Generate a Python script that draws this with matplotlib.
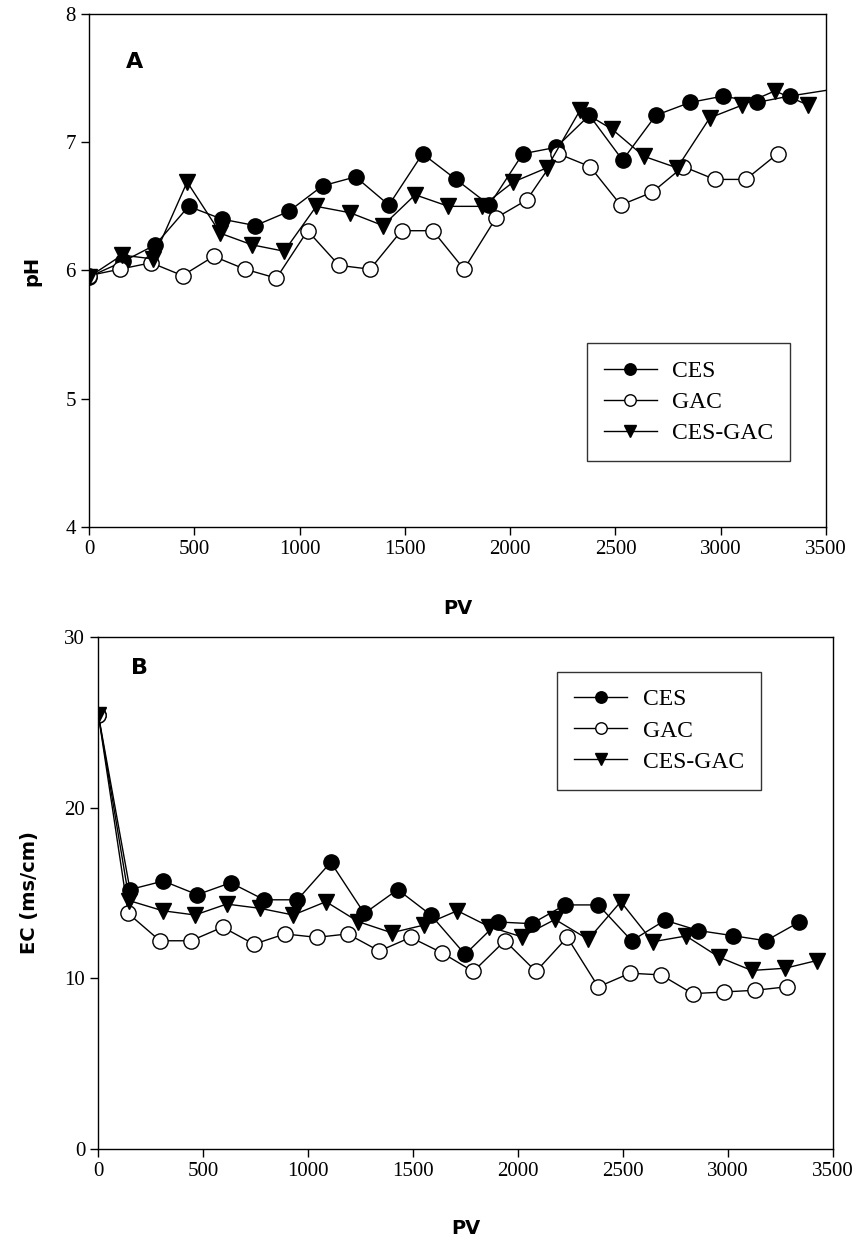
import matplotlib
matplotlib.use("Agg")
import matplotlib.pyplot as plt

# pH data (panel A)
ph_ces_pv = [0, 162, 315, 473, 632, 790, 948, 1109, 1266, 1424, 1584, 1743, 1901,
             2060, 2218, 2376, 2534, 2692, 2854, 3012, 3170, 3328, 3640]
ph_ces = [5.95, 6.07, 6.2, 6.5, 6.4, 6.35, 6.46, 6.66, 6.73, 6.51, 6.91, 6.71, 6.51,
          6.91, 6.96, 7.21, 6.86, 7.21, 7.31, 7.36, 7.31, 7.36, 7.44]

ph_gac_pv = [0, 146, 295, 444, 592, 741, 890, 1038, 1187, 1335, 1484, 1633, 1781,
             1933, 2079, 2229, 2379, 2525, 2675, 2822, 2972, 3119, 3270]
ph_gac = [5.96, 6.01, 6.06, 5.96, 6.11, 6.01, 5.94, 6.31, 6.04, 6.01, 6.31, 6.31, 6.01,
          6.41, 6.55, 6.91, 6.81, 6.51, 6.61, 6.81, 6.71, 6.71, 6.91]

ph_mix_pv = [0, 157, 304, 466, 624, 774, 927, 1079, 1240, 1396, 1549, 1707, 1866,
             2015, 2174, 2332, 2485, 2635, 2793, 2948, 3103, 3257, 3415]
ph_mix = [5.95, 6.12, 6.09, 6.69, 6.29, 6.2, 6.15, 6.5, 6.45, 6.35, 6.59, 6.5, 6.5,
          6.69, 6.8, 7.25, 7.1, 6.89, 6.8, 7.19, 7.29, 7.4, 7.29]

# EC data (panel B)
ec_ces_pv = [0, 150, 309, 471, 630, 790, 948, 1107, 1267, 1426, 1585, 1747, 1905,
             2065, 2223, 2382, 2541, 2700, 2859, 3022, 3181, 3340]
ec_ces = [25.4, 15.2, 15.7, 14.9, 15.6, 14.6, 14.6, 16.8, 13.8, 15.2, 13.7, 11.4, 13.3,
          13.2, 14.3, 14.3, 12.2, 13.4, 12.8, 12.5, 12.2, 13.3]

ec_gac_pv = [0, 142, 293, 441, 592, 741, 889, 1040, 1188, 1338, 1488, 1636, 1786,
             1937, 2085, 2234, 2382, 2533, 2681, 2832, 2981, 3129, 3280]
ec_gac = [25.4, 13.8, 12.2, 12.2, 13.0, 12.0, 12.6, 12.4, 12.6, 11.6, 12.4, 11.5, 10.4,
          12.2, 10.4, 12.4, 9.5, 10.3, 10.2, 9.1, 9.2, 9.3, 9.5]

ec_mix_pv = [0, 147, 306, 460, 611, 770, 928, 1084, 1238, 1397, 1551, 1710, 1863,
             2017, 2176, 2334, 2489, 2641, 2800, 2959, 3113, 3272, 3423]
ec_mix = [25.4, 14.55, 13.96, 13.71, 14.35, 14.1, 13.71, 14.49, 13.32, 12.67, 13.12, 13.96, 13.02,
          12.43, 13.45, 12.28, 14.49, 12.14, 12.48, 11.23, 10.46, 10.59, 11.04]

series_labels = ["CES", "GAC", "CES-GAC"]

serif = ["Liberation Serif", "DejaVu Serif"]
fig = plt.figure(figsize=(8.6, 12.47), dpi=100)
axA = fig.add_axes([0.1035, 0.5774, 0.857, 0.4114])
axB = fig.add_axes([0.1145, 0.0786, 0.854, 0.4106])

mk = dict(color="black", linewidth=1.0, markersize=11, markeredgewidth=1.0,
          markeredgecolor="black")


def draw(ax, data):
    (x1, y1), (x2, y2), (x3, y3) = data
    ax.plot(x1, y1, marker="o", markerfacecolor="black", label=series_labels[0], **mk)
    ax.plot(x2, y2, marker="o", markerfacecolor="white", label=series_labels[1], **mk)
    ax.plot(x3, y3, marker="v", markerfacecolor="black", label=series_labels[2], **mk)
    ax.set_xlim(0, 3500)
    ax.set_xticks(range(0, 3501, 500))
    ax.tick_params(direction="out", length=6, width=1, top=False, right=False,
                   labelsize=15)
    for lab in ax.get_xticklabels() + ax.get_yticklabels():
        lab.set_family(serif)
    for s in ax.spines.values():
        s.set_linewidth(1.0)


def add_legend(ax, anchor):
    leg = ax.legend(loc="upper right", bbox_to_anchor=anchor,
                    prop={"family": serif, "size": 17}, frameon=True, fancybox=False,
                    edgecolor="black", handlelength=2.25, handletextpad=0.64,
                    labelspacing=0.41, borderpad=0.72, borderaxespad=0,
                    markerscale=0.75)
    leg.get_frame().set_linewidth(1.0)
    return leg


draw(axA, [(ph_ces_pv, ph_ces), (ph_gac_pv, ph_gac), (ph_mix_pv, ph_mix)])
axA.set_ylim(4, 8)
axA.set_yticks([4, 5, 6, 7, 8])
for lab in axA.get_yticklabels():
    lab.set_family(serif)
axA.set_xlabel("PV", fontsize=14, fontweight="bold", labelpad=29)
axA.set_ylabel("pH", fontsize=14, fontweight="bold", labelpad=17)
axA.text(0.062, 0.906, "A", transform=axA.transAxes, fontsize=16,
         fontweight="bold", ha="center", va="center")
add_legend(axA, (0.951, 0.358))

draw(axB, [(ec_ces_pv, ec_ces), (ec_gac_pv, ec_gac), (ec_mix_pv, ec_mix)])
axB.set_ylim(0, 30)
axB.set_yticks([0, 10, 20, 30])
for lab in axB.get_yticklabels():
    lab.set_family(serif)
axB.set_xlabel("PV", fontsize=14, fontweight="bold", labelpad=27)
axB.set_ylabel("EC (ms/cm)", fontsize=14, fontweight="bold", labelpad=18)
axB.text(0.056, 0.94, "B", transform=axB.transAxes, fontsize=16,
         fontweight="bold", ha="center", va="center")
add_legend(axB, (0.9016, 0.932))

fig.savefig("out.png", dpi=100)
